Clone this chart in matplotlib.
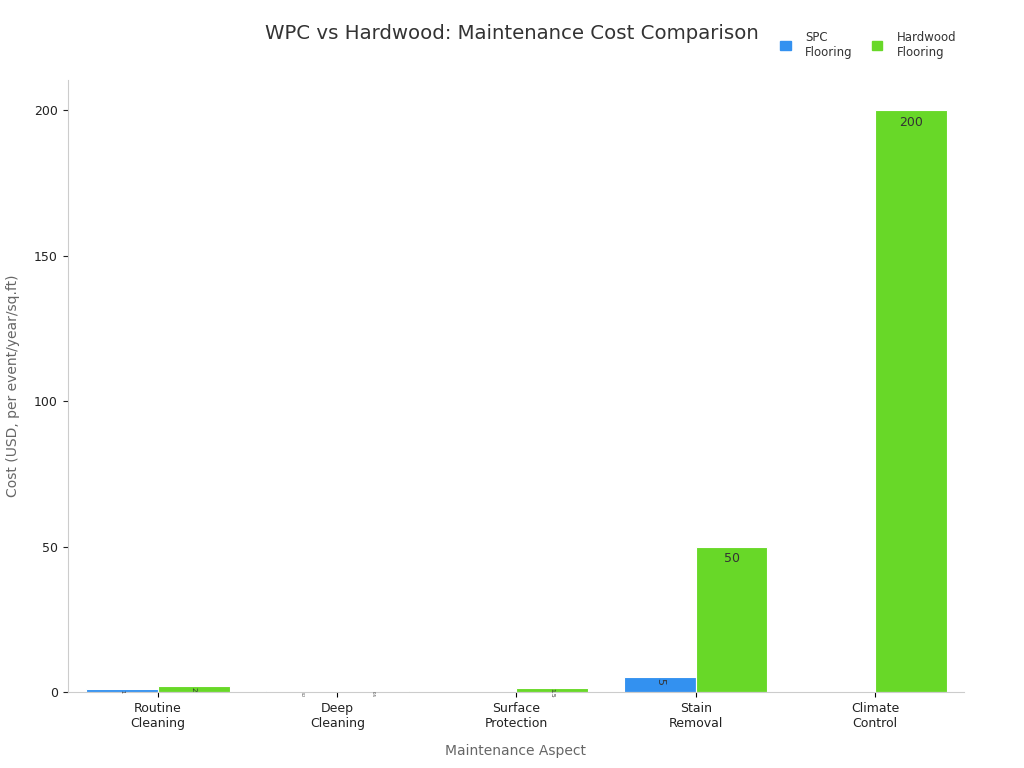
import numpy as np
import matplotlib.pyplot as plt
from matplotlib.patches import Patch

plt.rcParams['font.family'] = ['DejaVu Sans']

categories = ['Routine\nCleaning', 'Deep\nCleaning', 'Surface\nProtection', 'Stain\nRemoval', 'Climate\nControl']
spc_cost = [1, 0.2, 0, 5, 0]
hardwood_cost = [2, 0.5, 1.5, 50, 200]

spc_color = '#3391f0'
hw_color = '#68d828'

fig = plt.figure(figsize=(10.24, 7.68), dpi=100)
ax = fig.add_axes([0.066, 0.099, 0.875, 0.797])

x = np.arange(len(categories))
w = 0.4
b1 = ax.bar(x - w / 2, spc_cost, w, color=spc_color, edgecolor='white', linewidth=0.8)
b2 = ax.bar(x + w / 2, hardwood_cost, w, color=hw_color, edgecolor='white', linewidth=0.8)

# value labels just inside the bar top; small bars get rotated text
for bars, vals in [(b1, spc_cost), (b2, hardwood_cost)]:
    for rect, v in zip(bars, vals):
        if v <= 0:
            continue
        cx = rect.get_x() + rect.get_width() / 2
        if v >= 20:
            ax.text(cx, v - 2, f'{v:g}', ha='center', va='top', fontsize=9, color='#333333')
        else:
            ax.text(cx, v - 0.3, f'{v:g}', ha='center', va='top', fontsize=min(8, 2 + v * 1.6),
                    rotation=-90, color='#333333')

ax.set_xlim(-0.505, 4.495)
ax.set_ylim(0, 210.5)
ax.set_xticks(x)
ax.set_xticklabels(categories, fontsize=9, color='#222222')
ax.set_yticks([0, 50, 100, 150, 200])
ax.tick_params(axis='y', labelsize=9, colors='#222222')
for t in ax.get_xticklines() + ax.get_yticklines():
    t.set_color('#aaaaaa')
ax.set_xlabel('Maintenance Aspect', fontsize=10, color='#666666', labelpad=10)
ax.set_ylabel('Cost (USD, per event/year/sq.ft)', fontsize=10, color='#666666', labelpad=10)

for s in ['top', 'right']:
    ax.spines[s].set_visible(False)
for s in ['left', 'bottom']:
    ax.spines[s].set_color('#cccccc')

fig.text(0.5, 0.957, 'WPC vs Hardwood: Maintenance Cost Comparison', ha='center', va='center',
         fontsize=14.2, color='#333333')

handles = [Patch(color=spc_color), Patch(color=hw_color)]
fig.legend(handles, ['SPC\nFlooring', 'Hardwood\nFlooring'], loc='center', bbox_to_anchor=(0.848, 0.942),
           ncol=2, frameon=False, fontsize=8.5, handlelength=0.9, handleheight=0.9,
           columnspacing=1.6, handletextpad=1.2, labelcolor='#333333')

fig.savefig('out.png', dpi=100)
